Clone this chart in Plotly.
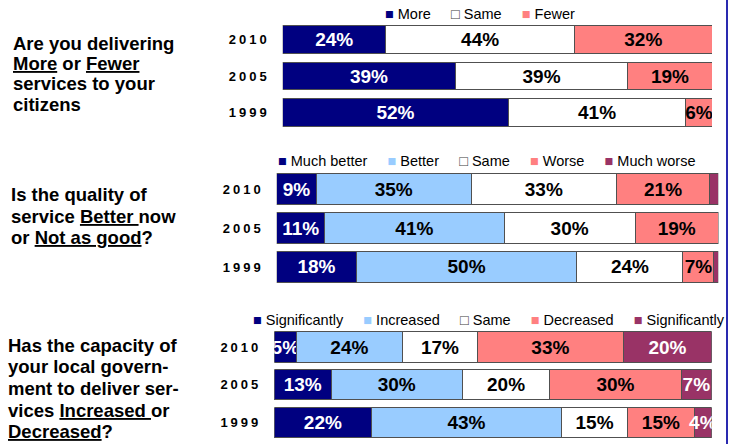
import plotly.graph_objects as go

# ---- data ----
years = ["2010", "2005", "1999"]

q1_names = ["More", "Same", "Fewer"]
q1_more = [24, 39, 52]
q1_same = [44, 39, 41]
q1_fewer = [32, 19, 6]

q2_names = ["Much better", "Better", "Same", "Worse", "Much worse"]
q2_much_better = [9, 11, 18]
q2_better = [35, 41, 50]
q2_same = [33, 30, 24]
q2_worse = [21, 19, 7]
q2_much_worse = [2, 0, 1]          # thin slivers, no label in the original

q3_names = ["Significantly", "Increased", "Same", "Decreased", "Significantly"]
q3_sig_up = [5, 13, 22]
q3_increased = [24, 30, 43]
q3_same = [17, 20, 15]
q3_decreased = [33, 30, 15]
q3_sig_down = [20, 7, 4]

q1_lines = ["Are you delivering", "<u>More</u> or <u>Fewer</u>", "services to your", "citizens"]
q2_lines = ["Is the quality of", "service <u>Better </u>now", "or <u>Not as good</u>?"]
q3_lines = ["Has the capacity of", "your local govern-", "ment to deliver ser-",
            "vices <u>Increased </u>or", "<u>Decreased</u>?"]

# ---- styling ----
NAVY, LBLUE, WHITE, SALMON, PLUM = "#000080", "#99CCFF", "#FFFFFF", "#FF8080", "#993366"
FONT = "Liberation Sans, Arial, sans-serif"
W, H = 732, 444


def px(x):
    """screen x (px) -> paper coordinate"""
    return x / W


def py(y):
    """screen y (px, from top) -> paper coordinate"""
    return 1 - y / H


panels = [
    dict(series=[q1_more, q1_same, q1_fewer], names=q1_names,
         colors=[NAVY, WHITE, SALMON], labelled=[True, True, True],
         xdom=(282.7, 712), ydom=(20.8, 131.2), bw=0.76,
         lines=q1_lines, line_y=43, line_dy=20.4, line_x=11, leg=(480, 14)),
    dict(series=[q2_much_better, q2_better, q2_same, q2_worse, q2_much_worse], names=q2_names,
         colors=[NAVY, LBLUE, WHITE, SALMON, PLUM], labelled=[True, True, True, True, False],
         xdom=(276.7, 718.3), ydom=(169.7, 286.4), bw=0.81,
         lines=q2_lines, line_y=194, line_dy=22, line_x=9, leg=(487, 161)),
    dict(series=[q3_sig_up, q3_increased, q3_same, q3_decreased, q3_sig_down], names=q3_names,
         colors=[NAVY, LBLUE, WHITE, SALMON, PLUM], labelled=[True, True, True, True, True],
         xdom=(274.3, 711.7), ydom=(328.1, 441.6), bw=0.80,
         lines=q3_lines, line_y=345, line_dy=21.7, line_x=6, leg=(489, 320)),
]


def legend_text(names, colors):
    parts = []
    for n, c in zip(names, colors):
        if c == WHITE:
            sym = "<span style='color:#404040'>□</span>"
        else:
            sym = f"<span style='color:{c}'>■</span>"
        parts.append(f"{sym}\u00a0{n}")
    return "\u00a0\u00a0\u00a0\u00a0\u00a0".join(parts)


fig = go.Figure()
layout = dict(
    width=W, height=H, margin=dict(l=0, r=0, t=0, b=0),
    paper_bgcolor="white", plot_bgcolor="white",
    barmode="stack", barnorm="percent", showlegend=False,
    font=dict(family=FONT, color="black"),
    uniformtext=dict(minsize=19, mode="show"),
    annotations=[], shapes=[],
)

for i, p in enumerate(panels, start=1):
    xa = "x" if i == 1 else f"x{i}"
    ya = "y" if i == 1 else f"y{i}"
    for vals, name, col, lab in zip(p["series"], p["names"], p["colors"], p["labelled"]):
        dark = col in (NAVY, PLUM)
        fig.add_trace(go.Bar(
            x=vals, y=years, orientation="h", name=name,
            xaxis=xa, yaxis=ya, width=p["bw"],
            marker=dict(color=col, line=dict(color="#505050", width=1)),
            text=[f"{v}%" if lab else "" for v in vals],
            textposition="inside", insidetextanchor="middle", textangle=0,
            textfont=dict(family=FONT, size=19, weight="bold",
                          color="white" if dark else "black"),
            hoverinfo="skip",
        ))
    x0, x1 = p["xdom"]
    ytop, ybot = p["ydom"]
    layout[f"xaxis{'' if i == 1 else i}"] = dict(
        domain=[px(x0), px(x1)], range=[0, 100], anchor=ya,
        visible=False, fixedrange=True,
    )
    layout[f"yaxis{'' if i == 1 else i}"] = dict(
        domain=[py(ybot), py(ytop)], anchor=xa,
        type="category", categoryorder="array", categoryarray=years,
        range=[2.5, -0.5], showgrid=False, zeroline=False, showline=False,
        ticks="", ticklabelstandoff=12,
        tickvals=years,
        ticktext=[f"<span style='letter-spacing:3px'>{y}</span>" for y in years],
        tickfont=dict(family=FONT, size=13, weight="bold", color="black"),
        fixedrange=True,
    )
    # question text at the left, one annotation per line
    for k, line in enumerate(p["lines"]):
        layout["annotations"].append(dict(
            xref="paper", yref="paper", x=px(p["line_x"]),
            y=py(p["line_y"] + k * p["line_dy"]),
            xanchor="left", yanchor="middle", showarrow=False,
            text=line, font=dict(family=FONT, size=18.5, weight="bold", color="black"),
        ))
    # legend row above each block
    lx, ly = p["leg"]
    layout["annotations"].append(dict(
        xref="paper", yref="paper", x=px(lx), y=py(ly),
        xanchor="center", yanchor="middle", showarrow=False,
        text=legend_text(p["names"], p["colors"]),
        font=dict(family=FONT, size=14.5, color="black"),
    ))

# slide frame on the right edge
layout["shapes"].append(dict(
    type="line", xref="paper", yref="paper", x0=px(727), x1=px(727), y0=0, y1=1,
    line=dict(color="#2a2ab0", width=2),
))

fig.update_layout(**layout)
# drop the page's default body margin so the figure sits at the window corner
fig.write_html("out.html", config={"displayModeBar": False},
               post_script="document.body.style.margin='0';")
